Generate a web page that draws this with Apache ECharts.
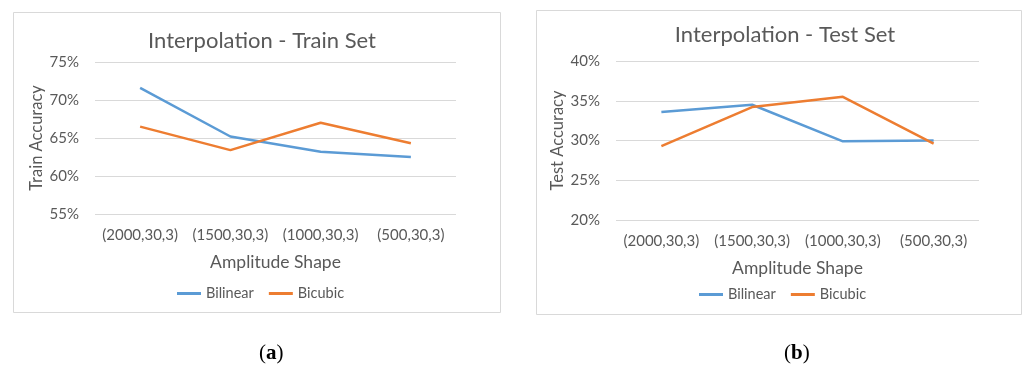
<!DOCTYPE html>
<html>
<head>
<meta charset="utf-8">
<script src="https://cdn.jsdelivr.net/npm/echarts@6/dist/echarts.min.js"></script>
<style>
  html, body { margin: 0; padding: 0; background: #ffffff; }
  #chart { width: 1024px; height: 368px; }
</style>
</head>
<body>
<div id="chart"></div>
<script>
// Amplitude shapes compared on the x axis
const shapes = ['(2000,30,3)', '(1500,30,3)', '(1000,30,3)', '(500,30,3)'];

// Train-set accuracy (%)
const trainBilinear = [71.6, 65.2, 63.2, 62.5];
const trainBicubic = [66.5, 63.4, 67.0, 64.3];

// Test-set accuracy (%)
const testBilinear = [33.6, 34.5, 29.9, 30.0];
const testBicubic = [29.3, 34.2, 35.5, 29.6];

// Y axis ranges (%)
const trainRange = { min: 55, max: 75, step: 5 };
const testRange = { min: 20, max: 40, step: 5 };

const FONT = 'Lato, "Open Sans", sans-serif';
const GREY = '#595959';
const GRID_LINE = '#d9d9d9';
const BLUE = '#5B9BD5';
const ORANGE = '#ED7D31';

function yAxisOf(gridIndex, range, name) {
  return {
    type: 'value', gridIndex,
    min: range.min, max: range.max, interval: range.step,
    name, nameLocation: 'middle', nameGap: 50,
    nameTextStyle: { color: GREY, fontSize: 16.5, fontFamily: FONT },
    axisLine: { show: false }, axisTick: { show: false },
    axisLabel: { color: GREY, fontSize: 15, fontFamily: FONT, margin: 16, formatter: '{value}%' },
    splitLine: { lineStyle: { color: GRID_LINE, width: 1 } }
  };
}

function xAxisOf(gridIndex) {
  return {
    type: 'category', gridIndex, data: shapes, boundaryGap: true,
    name: 'Amplitude Shape', nameLocation: 'middle', nameGap: 39,
    nameTextStyle: { color: GREY, fontSize: 17.5, fontFamily: FONT },
    axisLine: { show: false }, axisTick: { show: false },
    axisLabel: { color: GREY, fontSize: 15, fontFamily: FONT, margin: 14, interval: 0 }
  };
}

function lineOf(name, data, color, idx) {
  return {
    name, type: 'line', data, xAxisIndex: idx, yAxisIndex: idx,
    showSymbol: false, symbol: 'none', color,
    lineStyle: { color, width: 2.5 }, animation: false
  };
}

const legendBase = {
  data: ['Bilinear', 'Bicubic'], icon: 'rect', itemWidth: 24, itemHeight: 3,
  itemGap: 15, textStyle: { color: GREY, fontSize: 14.5, fontFamily: FONT },
  selectedMode: false
};

const chart = echarts.init(document.getElementById('chart'), null, { renderer: 'canvas' });

chart.setOption({
  backgroundColor: '#ffffff',
  animation: false,
  title: [
    { text: 'Interpolation - Train Set', left: 257, top: 25, textAlign: 'center',
      textStyle: { color: GREY, fontSize: 22, fontWeight: 'normal', fontFamily: FONT } },
    { text: 'Interpolation - Test Set', left: 780, top: 19, textAlign: 'center',
      textStyle: { color: GREY, fontSize: 22, fontWeight: 'normal', fontFamily: FONT } }
  ],
  grid: [
    { left: 95, top: 62, width: 361, height: 152 },
    { left: 616, top: 61, width: 363, height: 159 }
  ],
  xAxis: [xAxisOf(0), xAxisOf(1)],
  yAxis: [yAxisOf(0, trainRange, 'Train Accuracy'), yAxisOf(1, testRange, 'Test Accuracy')],
  legend: [
    Object.assign({}, legendBase, { left: 172, top: 281 }),
    Object.assign({}, legendBase, { left: 694, top: 282 })
  ],
  series: [
    lineOf('Bilinear', trainBilinear, BLUE, 0),
    lineOf('Bicubic', trainBicubic, ORANGE, 0),
    lineOf('Bilinear', testBilinear, BLUE, 1),
    lineOf('Bicubic', testBicubic, ORANGE, 1)
  ],
  graphic: [
    { type: 'rect', shape: { x: 13.5, y: 12.5, width: 487, height: 300 },
      style: { fill: 'none', stroke: GRID_LINE, lineWidth: 1 }, z: -1 },
    { type: 'rect', shape: { x: 536.5, y: 10.5, width: 485, height: 304 },
      style: { fill: 'none', stroke: GRID_LINE, lineWidth: 1 }, z: -1 },
    { type: 'text', left: 259, top: 343,
      style: { text: '({b|a})', fill: '#000', font: '21px "Liberation Serif", serif',
        rich: { b: { fontWeight: 'bold', fontSize: 21, fontFamily: '"Liberation Serif", serif', fill: '#000' } } } },
    { type: 'text', left: 784, top: 343,
      style: { text: '({b|b})', fill: '#000', font: '21px "Liberation Serif", serif',
        rich: { b: { fontWeight: 'bold', fontSize: 21, fontFamily: '"Liberation Serif", serif', fill: '#000' } } } }
  ]
});
</script>
</body>
</html>
